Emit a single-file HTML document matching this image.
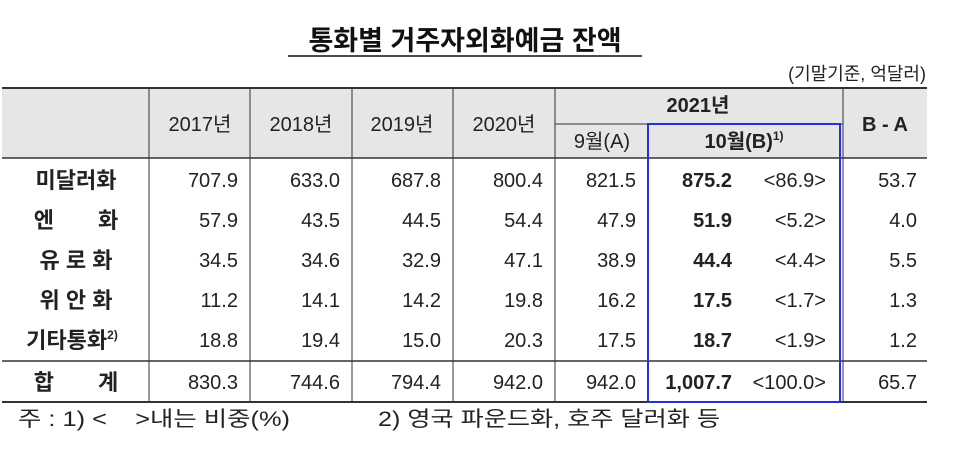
<!DOCTYPE html>
<html><head><meta charset="utf-8"><style>
html,body{margin:0;padding:0;background:#fff;width:954px;height:453px;overflow:hidden}
svg{display:block;font-family:"Liberation Sans","Noto Sans CJK KR",sans-serif}
</style></head><body>
<svg width="954" height="453" viewBox="0 0 954 453">
<text x="465" y="50" font-size="27" font-weight="bold" text-anchor="middle" fill="#111">통화별 거주자외화예금 잔액</text>
<line x1="288" y1="56" x2="642" y2="56" stroke="#111" stroke-width="1.5"/>
<text x="926" y="80" font-size="18" text-anchor="end" fill="#222">(기말기준, 억달러)</text>
<rect x="2" y="88" width="925" height="70" fill="#e6e6e6"/>
<g stroke="#333" stroke-width="1">
<line x1="2" y1="88" x2="927" y2="88" stroke-width="2"/>
<line x1="2" y1="158" x2="927" y2="158" stroke-width="1.5"/>
<line x1="2" y1="361" x2="927" y2="361" stroke-width="1.5"/>
<line x1="2" y1="402" x2="927" y2="402" stroke-width="2"/>
<line x1="555" y1="124" x2="843" y2="124"/>
<line x1="149" y1="88" x2="149" y2="402"/>
<line x1="250" y1="88" x2="250" y2="402"/>
<line x1="352" y1="88" x2="352" y2="402"/>
<line x1="453" y1="88" x2="453" y2="402"/>
<line x1="555" y1="88" x2="555" y2="402"/>
<line x1="843" y1="88" x2="843" y2="402"/>
</g>
<g font-size="20" fill="#222" text-anchor="middle">
<text x="200" y="131">2017년</text>
<text x="301" y="131">2018년</text>
<text x="402" y="131">2019년</text>
<text x="504" y="131">2020년</text>
<text x="698" y="112" font-weight="bold" font-size="20">2021년</text>
<text x="602" y="148">9월(A)</text>
<text x="744" y="148" font-weight="bold" font-size="20">10월(B)<tspan font-size="12" dy="-8">1)</tspan></text>
<text x="885" y="131" font-weight="bold" font-size="20">B - A</text>
</g>
<g id="rows"></g>
<rect x="648" y="124" width="192" height="278" fill="none" stroke="#2233dd" stroke-width="2"/>
<text x="18" y="426" font-size="21" fill="#222" xml:space="preserve" style="white-space:pre" textLength="272" lengthAdjust="spacingAndGlyphs">주 : 1) &lt;    &gt;내는 비중(%)</text>
<text x="378" y="426" font-size="21" fill="#222" textLength="342" lengthAdjust="spacingAndGlyphs">2) 영국 파운드화, 호주 달러화 등</text>
</svg>
<script>
const labels=["미달러화","엔　　화","유 로 화","위 안 화","기타통화","합　　계"];
const y2017=["707.9","57.9","34.5","11.2","18.8","830.3"];
const y2018=["633.0","43.5","34.6","14.1","19.4","744.6"];
const y2019=["687.8","44.5","32.9","14.2","15.0","794.4"];
const y2020=["800.4","54.4","47.1","19.8","20.3","942.0"];
const sep=["821.5","47.9","38.9","16.2","17.5","942.0"];
const oct=["875.2","51.9","44.4","17.5","18.7","1,007.7"];
const share=["<86.9>","<5.2>","<4.4>","<1.7>","<1.9>","<100.0>"];
const diff=["53.7","4.0","5.5","1.3","1.2","65.7"];
const NS="http://www.w3.org/2000/svg";
const g=document.getElementById('rows');
const rowY=[180,220,260,300,340,382];
function t(x,y,s,anchor,bold,name,size){const e=document.createElementNS(NS,'text');e.setAttribute('x',x);e.setAttribute('y',y);e.setAttribute('font-size',size||'20');e.setAttribute('fill','#222');e.setAttribute('text-anchor',anchor);if(bold)e.setAttribute('font-weight','bold');e.textContent=s;


g.appendChild(e);return e;}
labels.forEach((l,i)=>{const y=rowY[i]+7;
const lab=t(i===4?72:76,y+1,l,'middle',true,'row-label','22');
if(i===4){const s=document.createElementNS(NS,'tspan');s.setAttribute('font-size','12');s.setAttribute('dy','-9');s.textContent='2)';lab.appendChild(s);}
t(238,y,y2017[i],'end',false,'cell-2017');
t(340,y,y2018[i],'end',false,'cell-2018');
t(441,y,y2019[i],'end',false,'cell-2019');
t(543,y,y2020[i],'end',false,'cell-2020');
t(636,y,sep[i],'end',false,'cell-sep');
t(732,y,oct[i],'end',true,'cell-oct');
t(826,y,share[i],'end',false,'cell-share');
t(917,y,diff[i],'end',false,'cell-diff');
});
</script>
</body></html>
